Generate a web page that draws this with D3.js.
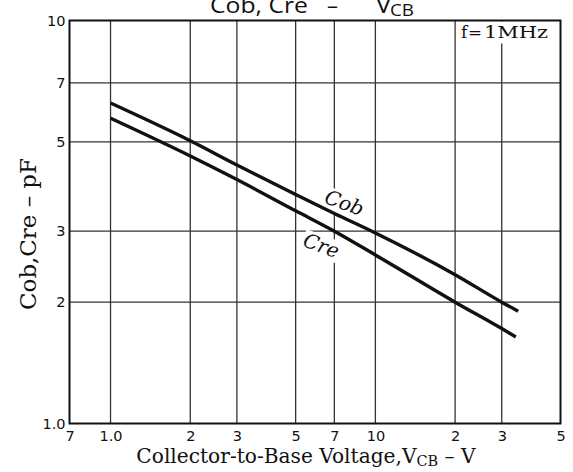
<!DOCTYPE html>
<html><head><meta charset="utf-8">
<script src="https://cdn.jsdelivr.net/npm/d3@7"></script>
<style>body{margin:0;background:#fff}</style>
</head><body><svg id="c" width="573" height="472"></svg>
<script>
// ---- data ----
const xTickValues = [0.7, 1, 2, 3, 5, 7, 10, 20, 30, 50];
const xTickLabels = ["7", "1.0", "2", "3", "5", "7", "10", "2", "3", "5"];
const yTickValues = [1, 2, 3, 5, 7, 10];
const yTickLabels = ["1.0", "2", "3", "5", "7", "10"];
const xGridValues = [1, 2, 3, 5, 7, 10, 20, 30];
const yGridValues = [2, 3, 5, 7];
const vcbCob = [1, 2, 3, 5, 7, 10, 20, 30, 34.6];
const cob    = [6.24, 5.03, 4.38, 3.70, 3.32, 2.97, 2.34, 2.0, 1.9];
const vcbCre = [1, 2, 3, 5, 7, 10, 20, 30, 33.9];
const cre    = [5.72, 4.61, 4.03, 3.37, 3.0, 2.62, 2.0, 1.72, 1.64];

const svg = d3.select("#c");
const L = 69.5, R = 560.5, T = 20.5, B = 423.5;
const x = d3.scaleLog().domain([0.7, 50]).range([L, R]);
const y = d3.scaleLog().domain([1, 10]).range([B, T]);
const SERIF = "'DejaVu Serif', serif";
const SANS = "'DejaVu Sans', sans-serif";

// grid
svg.append("g").selectAll("line").data(xGridValues).join("line")
  .attr("x1", d => x(d)).attr("x2", d => x(d)).attr("y1", T).attr("y2", B)
  .attr("stroke", "#333").attr("stroke-width", 1.3);
svg.append("g").selectAll("line").data(yGridValues).join("line")
  .attr("y1", d => y(d)).attr("y2", d => y(d)).attr("x1", L).attr("x2", R)
  .attr("stroke", "#333").attr("stroke-width", 1.3);

// f=1MHz box
svg.append("rect").attr("x", x(20) + 1.5).attr("y", T + 1).attr("width", R - x(20) - 3).attr("height", 22).attr("fill", "#fff");
const fz = svg.append("text").attr("y", 37.5).attr("font-family", SERIF).attr("font-size", 17).attr("fill", "#111");
fz.append("tspan").attr("x", 461).text("f");
fz.append("tspan").attr("x", 468).attr("textLength", 14).attr("lengthAdjust", "spacingAndGlyphs").text("=");
fz.append("tspan").attr("x", 484).attr("textLength", 64).attr("lengthAdjust", "spacingAndGlyphs").text("1MHz");

// curve labels with white backgrounds
const labelG = svg.append("g");
function curveLabel(txt, cx, cy, ang) {
  const g = labelG.append("g").attr("transform", `translate(${cx},${cy}) rotate(${ang})`);
  const r = g.append("rect").attr("fill", "#fff");
  const t = g.append("text").attr("text-anchor", "middle").attr("dy", "0.35em")
    .attr("font-family", SERIF).attr("font-style", "italic").attr("font-size", 20).attr("fill", "#111").text(txt);
  const bb = t.node().getBBox();
  r.attr("x", bb.x - 1).attr("y", bb.y + 2).attr("width", bb.width + 2).attr("height", bb.height - 2);
}
curveLabel("Cob", x(7.64), y(3.24) - 15, 20);
curveLabel("Cre", x(6.25), y(3.12) + 21, 20);

// border
svg.append("rect").attr("x", L).attr("y", T).attr("width", R - L).attr("height", B - T)
  .attr("fill", "none").attr("stroke", "#111").attr("stroke-width", 2);

// curves
const line = d3.line().x(d => x(d[0])).y(d => y(d[1])).curve(d3.curveMonotoneX);
svg.append("path").datum(vcbCob.map((v, i) => [v, cob[i]])).attr("d", line)
  .attr("fill", "none").attr("stroke", "#111").attr("stroke-width", 3.4);
svg.append("path").datum(vcbCre.map((v, i) => [v, cre[i]])).attr("d", line)
  .attr("fill", "none").attr("stroke", "#111").attr("stroke-width", 3.4);

// axes
const xAxis = d3.axisBottom(x).tickValues(xTickValues).tickFormat((d, i) => xTickLabels[i]).tickSize(0).tickPadding(7);
const gx = svg.append("g").attr("transform", `translate(0,${B})`).call(xAxis);
gx.select(".domain").remove();
gx.selectAll("text").attr("font-family", SANS).attr("font-size", 14.5).attr("fill", "#111");

const yAxis = d3.axisLeft(y).tickValues(yTickValues).tickFormat((d, i) => yTickLabels[i]).tickSize(0).tickPadding(4);
const gy = svg.append("g").attr("transform", `translate(${L},0)`).call(yAxis);
gy.select(".domain").remove();
gy.selectAll("text").attr("font-family", SANS).attr("font-size", 14.5).attr("fill", "#111");

// title
const title = svg.append("text").attr("y", 13).attr("font-family", "'Open Sans', sans-serif").attr("fill", "#111");
title.append("tspan").attr("x", 210).attr("font-size", 22).attr("textLength", 98).attr("lengthAdjust", "spacingAndGlyphs").text("Cob, Cre");
title.append("tspan").attr("x", 327).attr("font-size", 22).text("–");
title.append("tspan").attr("x", 376).attr("font-size", 22).attr("textLength", 15).attr("lengthAdjust", "spacingAndGlyphs").text("V");
title.append("tspan").attr("x", 390).attr("y", 16).attr("font-size", 17).attr("textLength", 24).attr("lengthAdjust", "spacingAndGlyphs").text("CB");

// axis titles
function fitText(sel, target) {
  const w = sel.node().getBBox().width;
  const fs = parseFloat(sel.attr("font-size"));
  sel.attr("font-size", fs * target / w);
}
const xt = svg.append("text").attr("x", 306).attr("y", 463).attr("text-anchor", "middle")
  .attr("font-family", SERIF).attr("font-size", 16).attr("fill", "#111");
xt.append("tspan").text("Collector-to-Base Voltage,V");
xt.append("tspan").attr("font-size", "0.72em").attr("dy", 3).text("CB");
xt.append("tspan").attr("dy", -3).text(" – V");
fitText(xt, 340);

const yt = svg.append("text").attr("transform", "translate(36,234) rotate(-90)").attr("text-anchor", "middle")
  .attr("font-family", SERIF).attr("font-size", 16).attr("fill", "#111").text("Cob,Cre – pF");
fitText(yt, 152);
</script>
</body></html>
